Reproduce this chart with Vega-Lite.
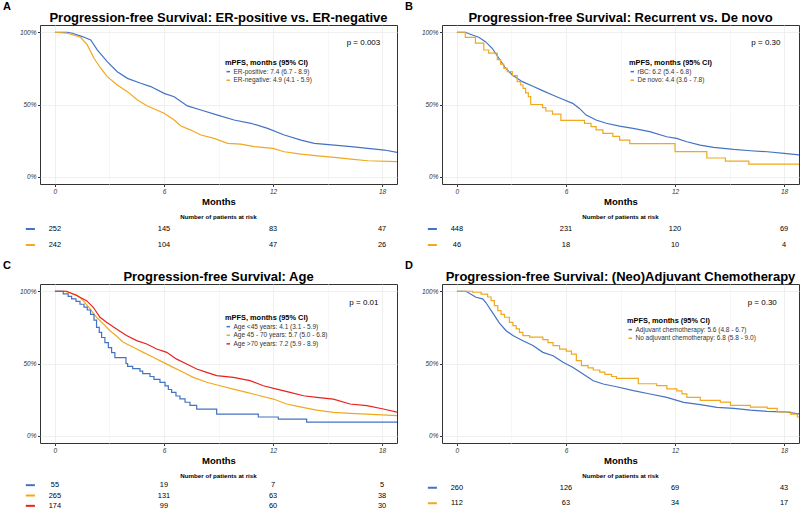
{
"$schema":"https://vega.github.io/schema/vega-lite/v6.json",
"background":"white",
"padding":{"left":2,"top":0,"right":2,"bottom":0},
"config":{"font":"Liberation Sans","view":{"stroke":"#333333","strokeWidth":1},"axis":{"domain":false,"grid":true,"labelFontSize":6.5,"labelFontStyle":"italic","labelColor":"#333333","tickColor":"#333333","tickSize":2.5,"labelPadding":1.5,"gridWidth":0.8},"title":{"color":"black"}},
"datasets":{
"kmA":[
{"g":"ER-positive: 7.4 (6.7 - 8.9)","t":0,"s":1},{"g":"ER-positive: 7.4 (6.7 - 8.9)","t":0.68,"s":1},{"g":"ER-positive: 7.4 (6.7 - 8.9)","t":0.96,"s":0.993},{"g":"ER-positive: 7.4 (6.7 - 8.9)","t":1.51,"s":0.97},{"g":"ER-positive: 7.4 (6.7 - 8.9)","t":1.97,"s":0.947},{"g":"ER-positive: 7.4 (6.7 - 8.9)","t":2.33,"s":0.878},{"g":"ER-positive: 7.4 (6.7 - 8.9)","t":2.88,"s":0.797},{"g":"ER-positive: 7.4 (6.7 - 8.9)","t":3.43,"s":0.727},{"g":"ER-positive: 7.4 (6.7 - 8.9)","t":3.99,"s":0.681},{"g":"ER-positive: 7.4 (6.7 - 8.9)","t":4.72,"s":0.647},{"g":"ER-positive: 7.4 (6.7 - 8.9)","t":5.27,"s":0.624},{"g":"ER-positive: 7.4 (6.7 - 8.9)","t":6.01,"s":0.577},{"g":"ER-positive: 7.4 (6.7 - 8.9)","t":6.56,"s":0.554},{"g":"ER-positive: 7.4 (6.7 - 8.9)","t":7.29,"s":0.49},{"g":"ER-positive: 7.4 (6.7 - 8.9)","t":8.03,"s":0.462},{"g":"ER-positive: 7.4 (6.7 - 8.9)","t":8.95,"s":0.427},{"g":"ER-positive: 7.4 (6.7 - 8.9)","t":9.86,"s":0.393},{"g":"ER-positive: 7.4 (6.7 - 8.9)","t":10.78,"s":0.37},{"g":"ER-positive: 7.4 (6.7 - 8.9)","t":11.7,"s":0.335},{"g":"ER-positive: 7.4 (6.7 - 8.9)","t":12.62,"s":0.289},{"g":"ER-positive: 7.4 (6.7 - 8.9)","t":13.54,"s":0.254},{"g":"ER-positive: 7.4 (6.7 - 8.9)","t":14.27,"s":0.231},{"g":"ER-positive: 7.4 (6.7 - 8.9)","t":15.37,"s":0.219},{"g":"ER-positive: 7.4 (6.7 - 8.9)","t":16.29,"s":0.208},{"g":"ER-positive: 7.4 (6.7 - 8.9)","t":17.21,"s":0.196},{"g":"ER-positive: 7.4 (6.7 - 8.9)","t":18.13,"s":0.185},{"g":"ER-positive: 7.4 (6.7 - 8.9)","t":18.96,"s":0.166},
{"g":"ER-negative: 4.9 (4.1 - 5.9)","t":0,"s":1},{"g":"ER-negative: 4.9 (4.1 - 5.9)","t":0.68,"s":0.993},{"g":"ER-negative: 4.9 (4.1 - 5.9)","t":1.41,"s":0.965},{"g":"ER-negative: 4.9 (4.1 - 5.9)","t":1.78,"s":0.912},{"g":"ER-negative: 4.9 (4.1 - 5.9)","t":2.15,"s":0.82},{"g":"ER-negative: 4.9 (4.1 - 5.9)","t":2.52,"s":0.751},{"g":"ER-negative: 4.9 (4.1 - 5.9)","t":2.88,"s":0.693},{"g":"ER-negative: 4.9 (4.1 - 5.9)","t":3.43,"s":0.635},{"g":"ER-negative: 4.9 (4.1 - 5.9)","t":3.99,"s":0.589},{"g":"ER-negative: 4.9 (4.1 - 5.9)","t":4.54,"s":0.531},{"g":"ER-negative: 4.9 (4.1 - 5.9)","t":5.09,"s":0.49},{"g":"ER-negative: 4.9 (4.1 - 5.9)","t":6.01,"s":0.439},{"g":"ER-negative: 4.9 (4.1 - 5.9)","t":6.56,"s":0.393},{"g":"ER-negative: 4.9 (4.1 - 5.9)","t":6.93,"s":0.351},{"g":"ER-negative: 4.9 (4.1 - 5.9)","t":7.48,"s":0.323},{"g":"ER-negative: 4.9 (4.1 - 5.9)","t":8.03,"s":0.289},{"g":"ER-negative: 4.9 (4.1 - 5.9)","t":8.76,"s":0.266},{"g":"ER-negative: 4.9 (4.1 - 5.9)","t":9.5,"s":0.231},{"g":"ER-negative: 4.9 (4.1 - 5.9)","t":10.23,"s":0.226},{"g":"ER-negative: 4.9 (4.1 - 5.9)","t":10.97,"s":0.208},{"g":"ER-negative: 4.9 (4.1 - 5.9)","t":11.98,"s":0.196},{"g":"ER-negative: 4.9 (4.1 - 5.9)","t":12.62,"s":0.173},{"g":"ER-negative: 4.9 (4.1 - 5.9)","t":13.54,"s":0.157},{"g":"ER-negative: 4.9 (4.1 - 5.9)","t":14.46,"s":0.145},{"g":"ER-negative: 4.9 (4.1 - 5.9)","t":15.37,"s":0.134},{"g":"ER-negative: 4.9 (4.1 - 5.9)","t":16.29,"s":0.122},{"g":"ER-negative: 4.9 (4.1 - 5.9)","t":17.21,"s":0.111},{"g":"ER-negative: 4.9 (4.1 - 5.9)","t":18.96,"s":0.104}
],
"kmB":[
{"g":"rBC: 6.2 (5.4 - 6.8)","t":0,"s":1},{"g":"rBC: 6.2 (5.4 - 6.8)","t":0.46,"s":1},{"g":"rBC: 6.2 (5.4 - 6.8)","t":0.74,"s":0.986},{"g":"rBC: 6.2 (5.4 - 6.8)","t":1.2,"s":0.965},{"g":"rBC: 6.2 (5.4 - 6.8)","t":1.57,"s":0.935},{"g":"rBC: 6.2 (5.4 - 6.8)","t":1.94,"s":0.889},{"g":"rBC: 6.2 (5.4 - 6.8)","t":2.31,"s":0.82},{"g":"rBC: 6.2 (5.4 - 6.8)","t":2.68,"s":0.751},{"g":"rBC: 6.2 (5.4 - 6.8)","t":3.05,"s":0.704},{"g":"rBC: 6.2 (5.4 - 6.8)","t":3.6,"s":0.658},{"g":"rBC: 6.2 (5.4 - 6.8)","t":4.15,"s":0.628},{"g":"rBC: 6.2 (5.4 - 6.8)","t":4.71,"s":0.596},{"g":"rBC: 6.2 (5.4 - 6.8)","t":5.26,"s":0.566},{"g":"rBC: 6.2 (5.4 - 6.8)","t":5.82,"s":0.536},{"g":"rBC: 6.2 (5.4 - 6.8)","t":6.37,"s":0.508},{"g":"rBC: 6.2 (5.4 - 6.8)","t":6.74,"s":0.473},{"g":"rBC: 6.2 (5.4 - 6.8)","t":7.11,"s":0.427},{"g":"rBC: 6.2 (5.4 - 6.8)","t":7.66,"s":0.393},{"g":"rBC: 6.2 (5.4 - 6.8)","t":8.21,"s":0.37},{"g":"rBC: 6.2 (5.4 - 6.8)","t":8.95,"s":0.351},{"g":"rBC: 6.2 (5.4 - 6.8)","t":9.69,"s":0.335},{"g":"rBC: 6.2 (5.4 - 6.8)","t":10.61,"s":0.312},{"g":"rBC: 6.2 (5.4 - 6.8)","t":11.54,"s":0.277},{"g":"rBC: 6.2 (5.4 - 6.8)","t":12.09,"s":0.266},{"g":"rBC: 6.2 (5.4 - 6.8)","t":12.65,"s":0.242},{"g":"rBC: 6.2 (5.4 - 6.8)","t":13.38,"s":0.219},{"g":"rBC: 6.2 (5.4 - 6.8)","t":14.12,"s":0.203},{"g":"rBC: 6.2 (5.4 - 6.8)","t":15.23,"s":0.189},{"g":"rBC: 6.2 (5.4 - 6.8)","t":16.15,"s":0.18},{"g":"rBC: 6.2 (5.4 - 6.8)","t":17.08,"s":0.173},{"g":"rBC: 6.2 (5.4 - 6.8)","t":18,"s":0.162},{"g":"rBC: 6.2 (5.4 - 6.8)","t":18.9,"s":0.15},
{"g":"De novo: 4.4 (3.6 - 7.8)","t":0,"s":1},{"g":"De novo: 4.4 (3.6 - 7.8)","t":0.46,"s":0.965},{"g":"De novo: 4.4 (3.6 - 7.8)","t":1.02,"s":0.924},{"g":"De novo: 4.4 (3.6 - 7.8)","t":1.48,"s":0.877},{"g":"De novo: 4.4 (3.6 - 7.8)","t":1.75,"s":0.855},{"g":"De novo: 4.4 (3.6 - 7.8)","t":2.22,"s":0.81},{"g":"De novo: 4.4 (3.6 - 7.8)","t":2.4,"s":0.78},{"g":"De novo: 4.4 (3.6 - 7.8)","t":2.58,"s":0.75},{"g":"De novo: 4.4 (3.6 - 7.8)","t":2.77,"s":0.727},{"g":"De novo: 4.4 (3.6 - 7.8)","t":3.05,"s":0.7},{"g":"De novo: 4.4 (3.6 - 7.8)","t":3.32,"s":0.658},{"g":"De novo: 4.4 (3.6 - 7.8)","t":3.51,"s":0.635},{"g":"De novo: 4.4 (3.6 - 7.8)","t":3.64,"s":0.612},{"g":"De novo: 4.4 (3.6 - 7.8)","t":3.78,"s":0.58},{"g":"De novo: 4.4 (3.6 - 7.8)","t":3.93,"s":0.554},{"g":"De novo: 4.4 (3.6 - 7.8)","t":4.06,"s":0.5},{"g":"De novo: 4.4 (3.6 - 7.8)","t":4.71,"s":0.478},{"g":"De novo: 4.4 (3.6 - 7.8)","t":4.89,"s":0.455},{"g":"De novo: 4.4 (3.6 - 7.8)","t":5.26,"s":0.433},{"g":"De novo: 4.4 (3.6 - 7.8)","t":5.72,"s":0.39},{"g":"De novo: 4.4 (3.6 - 7.8)","t":7.02,"s":0.37},{"g":"De novo: 4.4 (3.6 - 7.8)","t":7.38,"s":0.347},{"g":"De novo: 4.4 (3.6 - 7.8)","t":7.66,"s":0.325},{"g":"De novo: 4.4 (3.6 - 7.8)","t":8.03,"s":0.3},{"g":"De novo: 4.4 (3.6 - 7.8)","t":8.58,"s":0.28},{"g":"De novo: 4.4 (3.6 - 7.8)","t":8.95,"s":0.254},{"g":"De novo: 4.4 (3.6 - 7.8)","t":9.51,"s":0.23},{"g":"De novo: 4.4 (3.6 - 7.8)","t":12.0,"s":0.174},{"g":"De novo: 4.4 (3.6 - 7.8)","t":13.75,"s":0.13},{"g":"De novo: 4.4 (3.6 - 7.8)","t":14.77,"s":0.108},{"g":"De novo: 4.4 (3.6 - 7.8)","t":16.06,"s":0.087},{"g":"De novo: 4.4 (3.6 - 7.8)","t":19,"s":0.087}
],
"kmC":[
{"g":"Age <45 years: 4.1 (3.1 - 5.9)","t":0,"s":1},{"g":"Age <45 years: 4.1 (3.1 - 5.9)","t":0.46,"s":0.982},{"g":"Age <45 years: 4.1 (3.1 - 5.9)","t":0.73,"s":0.965},{"g":"Age <45 years: 4.1 (3.1 - 5.9)","t":0.92,"s":0.947},{"g":"Age <45 years: 4.1 (3.1 - 5.9)","t":1.16,"s":0.93},{"g":"Age <45 years: 4.1 (3.1 - 5.9)","t":1.38,"s":0.91},{"g":"Age <45 years: 4.1 (3.1 - 5.9)","t":1.6,"s":0.89},{"g":"Age <45 years: 4.1 (3.1 - 5.9)","t":1.78,"s":0.87},{"g":"Age <45 years: 4.1 (3.1 - 5.9)","t":1.96,"s":0.84},{"g":"Age <45 years: 4.1 (3.1 - 5.9)","t":2.15,"s":0.8},{"g":"Age <45 years: 4.1 (3.1 - 5.9)","t":2.29,"s":0.75},{"g":"Age <45 years: 4.1 (3.1 - 5.9)","t":2.44,"s":0.715},{"g":"Age <45 years: 4.1 (3.1 - 5.9)","t":2.57,"s":0.68},{"g":"Age <45 years: 4.1 (3.1 - 5.9)","t":2.75,"s":0.645},{"g":"Age <45 years: 4.1 (3.1 - 5.9)","t":2.94,"s":0.61},{"g":"Age <45 years: 4.1 (3.1 - 5.9)","t":3.12,"s":0.575},{"g":"Age <45 years: 4.1 (3.1 - 5.9)","t":3.3,"s":0.54},{"g":"Age <45 years: 4.1 (3.1 - 5.9)","t":3.91,"s":0.5},{"g":"Age <45 years: 4.1 (3.1 - 5.9)","t":4.0,"s":0.48},{"g":"Age <45 years: 4.1 (3.1 - 5.9)","t":4.28,"s":0.465},{"g":"Age <45 years: 4.1 (3.1 - 5.9)","t":4.68,"s":0.447},{"g":"Age <45 years: 4.1 (3.1 - 5.9)","t":4.83,"s":0.43},{"g":"Age <45 years: 4.1 (3.1 - 5.9)","t":5.23,"s":0.41},{"g":"Age <45 years: 4.1 (3.1 - 5.9)","t":5.45,"s":0.39},{"g":"Age <45 years: 4.1 (3.1 - 5.9)","t":5.78,"s":0.37},{"g":"Age <45 years: 4.1 (3.1 - 5.9)","t":6.06,"s":0.345},{"g":"Age <45 years: 4.1 (3.1 - 5.9)","t":6.24,"s":0.32},{"g":"Age <45 years: 4.1 (3.1 - 5.9)","t":6.42,"s":0.3},{"g":"Age <45 years: 4.1 (3.1 - 5.9)","t":6.66,"s":0.275},{"g":"Age <45 years: 4.1 (3.1 - 5.9)","t":6.88,"s":0.255},{"g":"Age <45 years: 4.1 (3.1 - 5.9)","t":7.16,"s":0.232},{"g":"Age <45 years: 4.1 (3.1 - 5.9)","t":7.43,"s":0.21},{"g":"Age <45 years: 4.1 (3.1 - 5.9)","t":7.8,"s":0.185},{"g":"Age <45 years: 4.1 (3.1 - 5.9)","t":8.9,"s":0.15},{"g":"Age <45 years: 4.1 (3.1 - 5.9)","t":11.19,"s":0.13},{"g":"Age <45 years: 4.1 (3.1 - 5.9)","t":12.29,"s":0.115},{"g":"Age <45 years: 4.1 (3.1 - 5.9)","t":13.85,"s":0.095},{"g":"Age <45 years: 4.1 (3.1 - 5.9)","t":19,"s":0.095},
{"g":"Age 45 - 70 years: 5.7 (5.0 - 6.8)","t":0,"s":1},{"g":"Age 45 - 70 years: 5.7 (5.0 - 6.8)","t":0.55,"s":1},{"g":"Age 45 - 70 years: 5.7 (5.0 - 6.8)","t":1.19,"s":0.975},{"g":"Age 45 - 70 years: 5.7 (5.0 - 6.8)","t":1.56,"s":0.935},{"g":"Age 45 - 70 years: 5.7 (5.0 - 6.8)","t":1.93,"s":0.878},{"g":"Age 45 - 70 years: 5.7 (5.0 - 6.8)","t":2.29,"s":0.82},{"g":"Age 45 - 70 years: 5.7 (5.0 - 6.8)","t":2.66,"s":0.774},{"g":"Age 45 - 70 years: 5.7 (5.0 - 6.8)","t":3.03,"s":0.727},{"g":"Age 45 - 70 years: 5.7 (5.0 - 6.8)","t":3.39,"s":0.69},{"g":"Age 45 - 70 years: 5.7 (5.0 - 6.8)","t":3.76,"s":0.647},{"g":"Age 45 - 70 years: 5.7 (5.0 - 6.8)","t":4.31,"s":0.612},{"g":"Age 45 - 70 years: 5.7 (5.0 - 6.8)","t":4.86,"s":0.577},{"g":"Age 45 - 70 years: 5.7 (5.0 - 6.8)","t":5.41,"s":0.543},{"g":"Age 45 - 70 years: 5.7 (5.0 - 6.8)","t":5.96,"s":0.508},{"g":"Age 45 - 70 years: 5.7 (5.0 - 6.8)","t":6.51,"s":0.473},{"g":"Age 45 - 70 years: 5.7 (5.0 - 6.8)","t":7.06,"s":0.44},{"g":"Age 45 - 70 years: 5.7 (5.0 - 6.8)","t":7.61,"s":0.404},{"g":"Age 45 - 70 years: 5.7 (5.0 - 6.8)","t":8.35,"s":0.37},{"g":"Age 45 - 70 years: 5.7 (5.0 - 6.8)","t":9.08,"s":0.346},{"g":"Age 45 - 70 years: 5.7 (5.0 - 6.8)","t":9.82,"s":0.323},{"g":"Age 45 - 70 years: 5.7 (5.0 - 6.8)","t":10.55,"s":0.3},{"g":"Age 45 - 70 years: 5.7 (5.0 - 6.8)","t":11.28,"s":0.277},{"g":"Age 45 - 70 years: 5.7 (5.0 - 6.8)","t":12.02,"s":0.254},{"g":"Age 45 - 70 years: 5.7 (5.0 - 6.8)","t":12.75,"s":0.22},{"g":"Age 45 - 70 years: 5.7 (5.0 - 6.8)","t":13.49,"s":0.2},{"g":"Age 45 - 70 years: 5.7 (5.0 - 6.8)","t":14.4,"s":0.178},{"g":"Age 45 - 70 years: 5.7 (5.0 - 6.8)","t":15.32,"s":0.162},{"g":"Age 45 - 70 years: 5.7 (5.0 - 6.8)","t":16.24,"s":0.155},{"g":"Age 45 - 70 years: 5.7 (5.0 - 6.8)","t":17.16,"s":0.15},{"g":"Age 45 - 70 years: 5.7 (5.0 - 6.8)","t":18.9,"s":0.139},
{"g":"Age >70 years: 7.2 (5.9 - 8.9)","t":0,"s":1},{"g":"Age >70 years: 7.2 (5.9 - 8.9)","t":0.64,"s":1},{"g":"Age >70 years: 7.2 (5.9 - 8.9)","t":1.19,"s":0.97},{"g":"Age >70 years: 7.2 (5.9 - 8.9)","t":1.74,"s":0.935},{"g":"Age >70 years: 7.2 (5.9 - 8.9)","t":2.11,"s":0.889},{"g":"Age >70 years: 7.2 (5.9 - 8.9)","t":2.48,"s":0.82},{"g":"Age >70 years: 7.2 (5.9 - 8.9)","t":2.84,"s":0.785},{"g":"Age >70 years: 7.2 (5.9 - 8.9)","t":3.39,"s":0.739},{"g":"Age >70 years: 7.2 (5.9 - 8.9)","t":3.94,"s":0.693},{"g":"Age >70 years: 7.2 (5.9 - 8.9)","t":4.5,"s":0.658},{"g":"Age >70 years: 7.2 (5.9 - 8.9)","t":5.05,"s":0.635},{"g":"Age >70 years: 7.2 (5.9 - 8.9)","t":5.6,"s":0.6},{"g":"Age >70 years: 7.2 (5.9 - 8.9)","t":6.15,"s":0.577},{"g":"Age >70 years: 7.2 (5.9 - 8.9)","t":6.7,"s":0.53},{"g":"Age >70 years: 7.2 (5.9 - 8.9)","t":7.25,"s":0.497},{"g":"Age >70 years: 7.2 (5.9 - 8.9)","t":7.8,"s":0.462},{"g":"Age >70 years: 7.2 (5.9 - 8.9)","t":8.35,"s":0.439},{"g":"Age >70 years: 7.2 (5.9 - 8.9)","t":8.9,"s":0.416},{"g":"Age >70 years: 7.2 (5.9 - 8.9)","t":9.82,"s":0.404},{"g":"Age >70 years: 7.2 (5.9 - 8.9)","t":10.73,"s":0.381},{"g":"Age >70 years: 7.2 (5.9 - 8.9)","t":11.47,"s":0.346},{"g":"Age >70 years: 7.2 (5.9 - 8.9)","t":12.2,"s":0.323},{"g":"Age >70 years: 7.2 (5.9 - 8.9)","t":12.94,"s":0.3},{"g":"Age >70 years: 7.2 (5.9 - 8.9)","t":13.67,"s":0.277},{"g":"Age >70 years: 7.2 (5.9 - 8.9)","t":14.4,"s":0.266},{"g":"Age >70 years: 7.2 (5.9 - 8.9)","t":15.32,"s":0.254},{"g":"Age >70 years: 7.2 (5.9 - 8.9)","t":16.24,"s":0.22},{"g":"Age >70 years: 7.2 (5.9 - 8.9)","t":17.16,"s":0.208},{"g":"Age >70 years: 7.2 (5.9 - 8.9)","t":18.07,"s":0.185},{"g":"Age >70 years: 7.2 (5.9 - 8.9)","t":18.9,"s":0.162}
],
"kmD":[
{"g":"Adjuvant chemotherapy: 5.6 (4.8 - 6.7)","t":0,"s":1},{"g":"Adjuvant chemotherapy: 5.6 (4.8 - 6.7)","t":0.5,"s":1},{"g":"Adjuvant chemotherapy: 5.6 (4.8 - 6.7)","t":1.05,"s":0.958},{"g":"Adjuvant chemotherapy: 5.6 (4.8 - 6.7)","t":1.42,"s":0.947},{"g":"Adjuvant chemotherapy: 5.6 (4.8 - 6.7)","t":1.6,"s":0.92},{"g":"Adjuvant chemotherapy: 5.6 (4.8 - 6.7)","t":1.97,"s":0.85},{"g":"Adjuvant chemotherapy: 5.6 (4.8 - 6.7)","t":2.34,"s":0.78},{"g":"Adjuvant chemotherapy: 5.6 (4.8 - 6.7)","t":2.71,"s":0.727},{"g":"Adjuvant chemotherapy: 5.6 (4.8 - 6.7)","t":3.08,"s":0.693},{"g":"Adjuvant chemotherapy: 5.6 (4.8 - 6.7)","t":3.63,"s":0.658},{"g":"Adjuvant chemotherapy: 5.6 (4.8 - 6.7)","t":4.18,"s":0.624},{"g":"Adjuvant chemotherapy: 5.6 (4.8 - 6.7)","t":4.73,"s":0.577},{"g":"Adjuvant chemotherapy: 5.6 (4.8 - 6.7)","t":5.29,"s":0.554},{"g":"Adjuvant chemotherapy: 5.6 (4.8 - 6.7)","t":5.84,"s":0.508},{"g":"Adjuvant chemotherapy: 5.6 (4.8 - 6.7)","t":6.39,"s":0.473},{"g":"Adjuvant chemotherapy: 5.6 (4.8 - 6.7)","t":6.94,"s":0.427},{"g":"Adjuvant chemotherapy: 5.6 (4.8 - 6.7)","t":7.5,"s":0.381},{"g":"Adjuvant chemotherapy: 5.6 (4.8 - 6.7)","t":8.05,"s":0.358},{"g":"Adjuvant chemotherapy: 5.6 (4.8 - 6.7)","t":8.78,"s":0.339},{"g":"Adjuvant chemotherapy: 5.6 (4.8 - 6.7)","t":9.71,"s":0.312},{"g":"Adjuvant chemotherapy: 5.6 (4.8 - 6.7)","t":10.63,"s":0.289},{"g":"Adjuvant chemotherapy: 5.6 (4.8 - 6.7)","t":11.55,"s":0.266},{"g":"Adjuvant chemotherapy: 5.6 (4.8 - 6.7)","t":12.47,"s":0.231},{"g":"Adjuvant chemotherapy: 5.6 (4.8 - 6.7)","t":13.39,"s":0.215},{"g":"Adjuvant chemotherapy: 5.6 (4.8 - 6.7)","t":14.31,"s":0.196},{"g":"Adjuvant chemotherapy: 5.6 (4.8 - 6.7)","t":15.23,"s":0.19},{"g":"Adjuvant chemotherapy: 5.6 (4.8 - 6.7)","t":16.15,"s":0.178},{"g":"Adjuvant chemotherapy: 5.6 (4.8 - 6.7)","t":17.07,"s":0.169},{"g":"Adjuvant chemotherapy: 5.6 (4.8 - 6.7)","t":17.99,"s":0.166},{"g":"Adjuvant chemotherapy: 5.6 (4.8 - 6.7)","t":18.9,"s":0.15},
{"g":"No adjuvant chemotherapy: 6.8 (5.8 - 9.0)","t":0,"s":1},{"g":"No adjuvant chemotherapy: 6.8 (5.8 - 9.0)","t":0.87,"s":0.993},{"g":"No adjuvant chemotherapy: 6.8 (5.8 - 9.0)","t":1.33,"s":0.98},{"g":"No adjuvant chemotherapy: 6.8 (5.8 - 9.0)","t":1.69,"s":0.96},{"g":"No adjuvant chemotherapy: 6.8 (5.8 - 9.0)","t":1.88,"s":0.935},{"g":"No adjuvant chemotherapy: 6.8 (5.8 - 9.0)","t":2.06,"s":0.9},{"g":"No adjuvant chemotherapy: 6.8 (5.8 - 9.0)","t":2.25,"s":0.866},{"g":"No adjuvant chemotherapy: 6.8 (5.8 - 9.0)","t":2.43,"s":0.84},{"g":"No adjuvant chemotherapy: 6.8 (5.8 - 9.0)","t":2.62,"s":0.82},{"g":"No adjuvant chemotherapy: 6.8 (5.8 - 9.0)","t":2.89,"s":0.785},{"g":"No adjuvant chemotherapy: 6.8 (5.8 - 9.0)","t":3.08,"s":0.762},{"g":"No adjuvant chemotherapy: 6.8 (5.8 - 9.0)","t":3.26,"s":0.739},{"g":"No adjuvant chemotherapy: 6.8 (5.8 - 9.0)","t":3.44,"s":0.716},{"g":"No adjuvant chemotherapy: 6.8 (5.8 - 9.0)","t":3.63,"s":0.693},{"g":"No adjuvant chemotherapy: 6.8 (5.8 - 9.0)","t":4.0,"s":0.682},{"g":"No adjuvant chemotherapy: 6.8 (5.8 - 9.0)","t":4.73,"s":0.665},{"g":"No adjuvant chemotherapy: 6.8 (5.8 - 9.0)","t":5.01,"s":0.645},{"g":"No adjuvant chemotherapy: 6.8 (5.8 - 9.0)","t":5.29,"s":0.624},{"g":"No adjuvant chemotherapy: 6.8 (5.8 - 9.0)","t":5.65,"s":0.6},{"g":"No adjuvant chemotherapy: 6.8 (5.8 - 9.0)","t":6.02,"s":0.585},{"g":"No adjuvant chemotherapy: 6.8 (5.8 - 9.0)","t":6.3,"s":0.565},{"g":"No adjuvant chemotherapy: 6.8 (5.8 - 9.0)","t":6.57,"s":0.52},{"g":"No adjuvant chemotherapy: 6.8 (5.8 - 9.0)","t":6.85,"s":0.485},{"g":"No adjuvant chemotherapy: 6.8 (5.8 - 9.0)","t":7.22,"s":0.47},{"g":"No adjuvant chemotherapy: 6.8 (5.8 - 9.0)","t":7.5,"s":0.455},{"g":"No adjuvant chemotherapy: 6.8 (5.8 - 9.0)","t":7.86,"s":0.44},{"g":"No adjuvant chemotherapy: 6.8 (5.8 - 9.0)","t":8.14,"s":0.425},{"g":"No adjuvant chemotherapy: 6.8 (5.8 - 9.0)","t":8.51,"s":0.41},{"g":"No adjuvant chemotherapy: 6.8 (5.8 - 9.0)","t":8.78,"s":0.397},{"g":"No adjuvant chemotherapy: 6.8 (5.8 - 9.0)","t":9.98,"s":0.36},{"g":"No adjuvant chemotherapy: 6.8 (5.8 - 9.0)","t":10.99,"s":0.347},{"g":"No adjuvant chemotherapy: 6.8 (5.8 - 9.0)","t":11.55,"s":0.325},{"g":"No adjuvant chemotherapy: 6.8 (5.8 - 9.0)","t":12.1,"s":0.31},{"g":"No adjuvant chemotherapy: 6.8 (5.8 - 9.0)","t":12.38,"s":0.29},{"g":"No adjuvant chemotherapy: 6.8 (5.8 - 9.0)","t":12.65,"s":0.266},{"g":"No adjuvant chemotherapy: 6.8 (5.8 - 9.0)","t":13.39,"s":0.245},{"g":"No adjuvant chemotherapy: 6.8 (5.8 - 9.0)","t":14.49,"s":0.233},{"g":"No adjuvant chemotherapy: 6.8 (5.8 - 9.0)","t":15.05,"s":0.21},{"g":"No adjuvant chemotherapy: 6.8 (5.8 - 9.0)","t":16.15,"s":0.198},{"g":"No adjuvant chemotherapy: 6.8 (5.8 - 9.0)","t":17.07,"s":0.19},{"g":"No adjuvant chemotherapy: 6.8 (5.8 - 9.0)","t":17.62,"s":0.165},{"g":"No adjuvant chemotherapy: 6.8 (5.8 - 9.0)","t":18.36,"s":0.15},{"g":"No adjuvant chemotherapy: 6.8 (5.8 - 9.0)","t":18.73,"s":0.13},{"g":"No adjuvant chemotherapy: 6.8 (5.8 - 9.0)","t":19,"s":0.13}
],
"riskA":[
{"g":"ER-positive: 7.4 (6.7 - 8.9)","t":0,"n":252},{"g":"ER-positive: 7.4 (6.7 - 8.9)","t":6,"n":145},{"g":"ER-positive: 7.4 (6.7 - 8.9)","t":12,"n":83},{"g":"ER-positive: 7.4 (6.7 - 8.9)","t":18,"n":47},
{"g":"ER-negative: 4.9 (4.1 - 5.9)","t":0,"n":242},{"g":"ER-negative: 4.9 (4.1 - 5.9)","t":6,"n":104},{"g":"ER-negative: 4.9 (4.1 - 5.9)","t":12,"n":47},{"g":"ER-negative: 4.9 (4.1 - 5.9)","t":18,"n":26}
],
"riskB":[
{"g":"rBC: 6.2 (5.4 - 6.8)","t":0,"n":448},{"g":"rBC: 6.2 (5.4 - 6.8)","t":6,"n":231},{"g":"rBC: 6.2 (5.4 - 6.8)","t":12,"n":120},{"g":"rBC: 6.2 (5.4 - 6.8)","t":18,"n":69},
{"g":"De novo: 4.4 (3.6 - 7.8)","t":0,"n":46},{"g":"De novo: 4.4 (3.6 - 7.8)","t":6,"n":18},{"g":"De novo: 4.4 (3.6 - 7.8)","t":12,"n":10},{"g":"De novo: 4.4 (3.6 - 7.8)","t":18,"n":4}
],
"riskC":[
{"g":"Age <45 years: 4.1 (3.1 - 5.9)","t":0,"n":55},{"g":"Age <45 years: 4.1 (3.1 - 5.9)","t":6,"n":19},{"g":"Age <45 years: 4.1 (3.1 - 5.9)","t":12,"n":7},{"g":"Age <45 years: 4.1 (3.1 - 5.9)","t":18,"n":5},
{"g":"Age 45 - 70 years: 5.7 (5.0 - 6.8)","t":0,"n":265},{"g":"Age 45 - 70 years: 5.7 (5.0 - 6.8)","t":6,"n":131},{"g":"Age 45 - 70 years: 5.7 (5.0 - 6.8)","t":12,"n":63},{"g":"Age 45 - 70 years: 5.7 (5.0 - 6.8)","t":18,"n":38},
{"g":"Age >70 years: 7.2 (5.9 - 8.9)","t":0,"n":174},{"g":"Age >70 years: 7.2 (5.9 - 8.9)","t":6,"n":99},{"g":"Age >70 years: 7.2 (5.9 - 8.9)","t":12,"n":60},{"g":"Age >70 years: 7.2 (5.9 - 8.9)","t":18,"n":30}
],
"riskD":[
{"g":"Adjuvant chemotherapy: 5.6 (4.8 - 6.7)","t":0,"n":260},{"g":"Adjuvant chemotherapy: 5.6 (4.8 - 6.7)","t":6,"n":126},{"g":"Adjuvant chemotherapy: 5.6 (4.8 - 6.7)","t":12,"n":69},{"g":"Adjuvant chemotherapy: 5.6 (4.8 - 6.7)","t":18,"n":43},
{"g":"No adjuvant chemotherapy: 6.8 (5.8 - 9.0)","t":0,"n":112},{"g":"No adjuvant chemotherapy: 6.8 (5.8 - 9.0)","t":6,"n":63},{"g":"No adjuvant chemotherapy: 6.8 (5.8 - 9.0)","t":12,"n":34},{"g":"No adjuvant chemotherapy: 6.8 (5.8 - 9.0)","t":18,"n":17}
]
},
"spacing":6,
"resolve":{"scale":{"color":"independent"}},
"vconcat":[
{"hconcat":[
 {"title":{"text":"A","anchor":"start","fontSize":11,"fontWeight":"bold","dx":-16,"offset":0,"color":"black"},
  "spacing":6,"resolve":{"scale":{"color":"independent"}},
  "vconcat":[
   {"width":357,"height":159,
    "title":{"text":"Progression-free Survival: ER-positive vs. ER-negative","fontSize":13,"fontWeight":"bold","anchor":"middle","frame":"group","offset":0,"color":"black"},
    "layer":[
     {"data":{"name":"kmA"},
      "encoding":{
       "x":{"field":"t","type":"quantitative","scale":{"domain":[-0.82,18.82],"nice":false,"zero":false},"axis":{"values":[0,3,6,9,12,15,18],"labelExpr":"datum.value % 6 == 0 ? datum.label : ''","gridColor":{"condition":{"test":"datum.value % 6 == 0","value":"#EBEBEB"},"value":"#F5F5F5"},"tickOpacity":{"condition":{"test":"datum.value % 6 == 0","value":1},"value":0},"title":"Months","titleFontSize":9.5,"titleFontWeight":"bold","titleColor":"black","titlePadding":2,"labelFlush":false}},
       "y":{"field":"s","type":"quantitative","scale":{"domain":[-0.05,1.05],"nice":false,"zero":false},"axis":{"values":[0,0.125,0.25,0.375,0.5,0.625,0.75,0.875,1],"labelExpr":"round(datum.value*8) % 2 == 0 ? format(datum.value, '.0%') : ''","gridColor":{"condition":{"test":"round(datum.value*8) % 2 == 0","value":"#EBEBEB"},"value":"#F5F5F5"},"tickOpacity":{"condition":{"test":"round(datum.value*8) % 2 == 0","value":1},"value":0},"title":null}},
       "color":{"field":"g","type":"nominal","scale":{"domain":["ER-positive: 7.4 (6.7 - 8.9)","ER-negative: 4.9 (4.1 - 5.9)"],"range":["#4472C4","#F2A81D"]},"legend":{"orient":"none","legendX":185,"legendY":34,"title":"mPFS, months (95% CI)","titleFontSize":7.4,"titleFontWeight":"bold","titleColor":"black","titlePadding":2,"labelFontSize":6.5,"labelColor":"#333333","symbolType":"stroke","symbolSize":12,"symbolStrokeWidth":1.5,"rowPadding":1.6,"labelOffset":2,"padding":0,"labelLimit":300}}
      },
      "layer":[{"mark":{"type":"line","interpolate":"linear","strokeWidth":1.2,"clip":true}}]
     },
     {"data":{"values":[{}]},"mark":{"type":"text","align":"right","baseline":"middle","fontSize":8,"color":"black"},"encoding":{"x":{"datum":17.9},"y":{"datum":0.926},"text":{"value":"p = 0.003"}}}
    ]
   },
   {"width":357,"height":32,"view":{"stroke":null},
    "title":{"text":"Number of patients at risk","fontSize":6.2,"fontWeight":"bold","anchor":"middle","frame":"group","offset":1,"color":"black"},
    "data":{"name":"riskA"},
    "encoding":{"y":{"field":"g","type":"nominal","scale":{"type":"point","padding":0.5,"domain":["ER-positive: 7.4 (6.7 - 8.9)","ER-negative: 4.9 (4.1 - 5.9)"]},"axis":null}},
    "layer":[
     {"mark":{"type":"text","fontSize":7.4,"color":"black"},"encoding":{"x":{"field":"t","type":"quantitative","scale":{"domain":[-0.82,18.82],"nice":false,"zero":false},"axis":null},"text":{"field":"n","type":"quantitative"}}},
     {"transform":[{"filter":"datum.t == 0"}],"mark":{"type":"rule","strokeWidth":2,"clip":false},"encoding":{"x":{"datum":-1.6},"x2":{"datum":-1.1},"color":{"field":"g","type":"nominal","scale":{"domain":["ER-positive: 7.4 (6.7 - 8.9)","ER-negative: 4.9 (4.1 - 5.9)"],"range":["#4472C4","#F2A81D"]},"legend":null}}}
    ]
   }
  ]
 },
 {"title":{"text":"B","anchor":"start","fontSize":11,"fontWeight":"bold","dx":-16,"offset":0,"color":"black"},
  "spacing":6,"resolve":{"scale":{"color":"independent"}},
  "vconcat":[
   {"width":357,"height":159,
    "title":{"text":"Progression-free Survival: Recurrent vs. De novo","fontSize":13,"fontWeight":"bold","anchor":"middle","frame":"group","offset":0,"color":"black"},
    "layer":[
     {"data":{"name":"kmB"},
      "encoding":{
       "x":{"field":"t","type":"quantitative","scale":{"domain":[-0.82,18.82],"nice":false,"zero":false},"axis":{"values":[0,3,6,9,12,15,18],"labelExpr":"datum.value % 6 == 0 ? datum.label : ''","gridColor":{"condition":{"test":"datum.value % 6 == 0","value":"#EBEBEB"},"value":"#F5F5F5"},"tickOpacity":{"condition":{"test":"datum.value % 6 == 0","value":1},"value":0},"title":"Months","titleFontSize":9.5,"titleFontWeight":"bold","titleColor":"black","titlePadding":2,"labelFlush":false}},
       "y":{"field":"s","type":"quantitative","scale":{"domain":[-0.05,1.05],"nice":false,"zero":false},"axis":{"values":[0,0.125,0.25,0.375,0.5,0.625,0.75,0.875,1],"labelExpr":"round(datum.value*8) % 2 == 0 ? format(datum.value, '.0%') : ''","gridColor":{"condition":{"test":"round(datum.value*8) % 2 == 0","value":"#EBEBEB"},"value":"#F5F5F5"},"tickOpacity":{"condition":{"test":"round(datum.value*8) % 2 == 0","value":1},"value":0},"title":null}},
       "color":{"field":"g","type":"nominal","scale":{"domain":["rBC: 6.2 (5.4 - 6.8)","De novo: 4.4 (3.6 - 7.8)"],"range":["#4472C4","#F2A81D"]},"legend":{"orient":"none","legendX":187,"legendY":34,"title":"mPFS, months (95% CI)","titleFontSize":7.4,"titleFontWeight":"bold","titleColor":"black","titlePadding":2,"labelFontSize":6.5,"labelColor":"#333333","symbolType":"stroke","symbolSize":12,"symbolStrokeWidth":1.5,"rowPadding":1.6,"labelOffset":2,"padding":0,"labelLimit":300}}
      },
      "layer":[
       {"transform":[{"filter":"datum.g == 'rBC: 6.2 (5.4 - 6.8)'"}],"mark":{"type":"line","interpolate":"linear","strokeWidth":1.2,"clip":true}},
       {"transform":[{"filter":"datum.g == 'De novo: 4.4 (3.6 - 7.8)'"}],"mark":{"type":"line","interpolate":"step-after","strokeWidth":1.2,"clip":true}}
      ]
     },
     {"data":{"values":[{}]},"mark":{"type":"text","align":"right","baseline":"middle","fontSize":8,"color":"black"},"encoding":{"x":{"datum":17.8},"y":{"datum":0.926},"text":{"value":"p = 0.30"}}}
    ]
   },
   {"width":357,"height":32,"view":{"stroke":null},
    "title":{"text":"Number of patients at risk","fontSize":6.2,"fontWeight":"bold","anchor":"middle","frame":"group","offset":1,"color":"black"},
    "data":{"name":"riskB"},
    "encoding":{"y":{"field":"g","type":"nominal","scale":{"type":"point","padding":0.5,"domain":["rBC: 6.2 (5.4 - 6.8)","De novo: 4.4 (3.6 - 7.8)"]},"axis":null}},
    "layer":[
     {"mark":{"type":"text","fontSize":7.4,"color":"black"},"encoding":{"x":{"field":"t","type":"quantitative","scale":{"domain":[-0.82,18.82],"nice":false,"zero":false},"axis":null},"text":{"field":"n","type":"quantitative"}}},
     {"transform":[{"filter":"datum.t == 0"}],"mark":{"type":"rule","strokeWidth":2,"clip":false},"encoding":{"x":{"datum":-1.6},"x2":{"datum":-1.1},"color":{"field":"g","type":"nominal","scale":{"domain":["rBC: 6.2 (5.4 - 6.8)","De novo: 4.4 (3.6 - 7.8)"],"range":["#4472C4","#F2A81D"]},"legend":null}}}
    ]
   }
  ]
 }
],"spacing":6,"resolve":{"scale":{"color":"independent"}}},
{"hconcat":[
 {"title":{"text":"C","anchor":"start","fontSize":11,"fontWeight":"bold","dx":-16,"offset":0,"color":"black"},
  "spacing":6,"resolve":{"scale":{"color":"independent"}},
  "vconcat":[
   {"width":357,"height":159,
    "title":{"text":"Progression-free Survival: Age","fontSize":13,"fontWeight":"bold","anchor":"middle","frame":"group","offset":0,"color":"black"},
    "layer":[
     {"data":{"name":"kmC"},
      "encoding":{
       "x":{"field":"t","type":"quantitative","scale":{"domain":[-0.82,18.82],"nice":false,"zero":false},"axis":{"values":[0,3,6,9,12,15,18],"labelExpr":"datum.value % 6 == 0 ? datum.label : ''","gridColor":{"condition":{"test":"datum.value % 6 == 0","value":"#EBEBEB"},"value":"#F5F5F5"},"tickOpacity":{"condition":{"test":"datum.value % 6 == 0","value":1},"value":0},"title":"Months","titleFontSize":9.5,"titleFontWeight":"bold","titleColor":"black","titlePadding":2,"labelFlush":false}},
       "y":{"field":"s","type":"quantitative","scale":{"domain":[-0.05,1.05],"nice":false,"zero":false},"axis":{"values":[0,0.125,0.25,0.375,0.5,0.625,0.75,0.875,1],"labelExpr":"round(datum.value*8) % 2 == 0 ? format(datum.value, '.0%') : ''","gridColor":{"condition":{"test":"round(datum.value*8) % 2 == 0","value":"#EBEBEB"},"value":"#F5F5F5"},"tickOpacity":{"condition":{"test":"round(datum.value*8) % 2 == 0","value":1},"value":0},"title":null}},
       "color":{"field":"g","type":"nominal","scale":{"domain":["Age <45 years: 4.1 (3.1 - 5.9)","Age 45 - 70 years: 5.7 (5.0 - 6.8)","Age >70 years: 7.2 (5.9 - 8.9)"],"range":["#4472C4","#F2A81D","#E8211D"]},"legend":{"orient":"none","legendX":185,"legendY":30,"title":"mPFS, months (95% CI)","titleFontSize":7.4,"titleFontWeight":"bold","titleColor":"black","titlePadding":2,"labelFontSize":6.5,"labelColor":"#333333","symbolType":"stroke","symbolSize":12,"symbolStrokeWidth":1.5,"rowPadding":1.6,"labelOffset":2,"padding":0,"labelLimit":300}}
      },
      "layer":[
       {"transform":[{"filter":"datum.g != 'Age <45 years: 4.1 (3.1 - 5.9)'"}],"mark":{"type":"line","interpolate":"linear","strokeWidth":1.2,"clip":true}},
       {"transform":[{"filter":"datum.g == 'Age <45 years: 4.1 (3.1 - 5.9)'"}],"mark":{"type":"line","interpolate":"step-after","strokeWidth":1.2,"clip":true}}
      ]
     },
     {"data":{"values":[{}]},"mark":{"type":"text","align":"right","baseline":"middle","fontSize":8,"color":"black"},"encoding":{"x":{"datum":17.8},"y":{"datum":0.92},"text":{"value":"p = 0.01"}}}
    ]
   },
   {"width":357,"height":31,"view":{"stroke":null},
    "title":{"text":"Number of patients at risk","fontSize":6.2,"fontWeight":"bold","anchor":"middle","frame":"group","offset":1,"color":"black"},
    "data":{"name":"riskC"},
    "encoding":{"y":{"field":"g","type":"nominal","scale":{"type":"point","padding":0.5,"domain":["Age <45 years: 4.1 (3.1 - 5.9)","Age 45 - 70 years: 5.7 (5.0 - 6.8)","Age >70 years: 7.2 (5.9 - 8.9)"]},"axis":null}},
    "layer":[
     {"mark":{"type":"text","fontSize":7.4,"color":"black"},"encoding":{"x":{"field":"t","type":"quantitative","scale":{"domain":[-0.82,18.82],"nice":false,"zero":false},"axis":null},"text":{"field":"n","type":"quantitative"}}},
     {"transform":[{"filter":"datum.t == 0"}],"mark":{"type":"rule","strokeWidth":2,"clip":false},"encoding":{"x":{"datum":-1.6},"x2":{"datum":-1.1},"color":{"field":"g","type":"nominal","scale":{"domain":["Age <45 years: 4.1 (3.1 - 5.9)","Age 45 - 70 years: 5.7 (5.0 - 6.8)","Age >70 years: 7.2 (5.9 - 8.9)"],"range":["#4472C4","#F2A81D","#E8211D"]},"legend":null}}}
    ]
   }
  ]
 },
 {"title":{"text":"D","anchor":"start","fontSize":11,"fontWeight":"bold","dx":-16,"offset":0,"color":"black"},
  "spacing":6,"resolve":{"scale":{"color":"independent"}},
  "vconcat":[
   {"width":357,"height":159,
    "title":{"text":"Progression-free Survival: (Neo)Adjuvant Chemotherapy","fontSize":13,"fontWeight":"bold","anchor":"middle","frame":"group","offset":0,"color":"black"},
    "layer":[
     {"data":{"name":"kmD"},
      "encoding":{
       "x":{"field":"t","type":"quantitative","scale":{"domain":[-0.82,18.82],"nice":false,"zero":false},"axis":{"values":[0,3,6,9,12,15,18],"labelExpr":"datum.value % 6 == 0 ? datum.label : ''","gridColor":{"condition":{"test":"datum.value % 6 == 0","value":"#EBEBEB"},"value":"#F5F5F5"},"tickOpacity":{"condition":{"test":"datum.value % 6 == 0","value":1},"value":0},"title":"Months","titleFontSize":9.5,"titleFontWeight":"bold","titleColor":"black","titlePadding":2,"labelFlush":false}},
       "y":{"field":"s","type":"quantitative","scale":{"domain":[-0.05,1.05],"nice":false,"zero":false},"axis":{"values":[0,0.125,0.25,0.375,0.5,0.625,0.75,0.875,1],"labelExpr":"round(datum.value*8) % 2 == 0 ? format(datum.value, '.0%') : ''","gridColor":{"condition":{"test":"round(datum.value*8) % 2 == 0","value":"#EBEBEB"},"value":"#F5F5F5"},"tickOpacity":{"condition":{"test":"round(datum.value*8) % 2 == 0","value":1},"value":0},"title":null}},
       "color":{"field":"g","type":"nominal","scale":{"domain":["Adjuvant chemotherapy: 5.6 (4.8 - 6.7)","No adjuvant chemotherapy: 6.8 (5.8 - 9.0)"],"range":["#4472C4","#F2A81D"]},"legend":{"orient":"none","legendX":185,"legendY":33,"title":"mPFS, months (95% CI)","titleFontSize":7.4,"titleFontWeight":"bold","titleColor":"black","titlePadding":2,"labelFontSize":6.5,"labelColor":"#333333","symbolType":"stroke","symbolSize":12,"symbolStrokeWidth":1.5,"rowPadding":1.6,"labelOffset":2,"padding":0,"labelLimit":300}}
      },
      "layer":[
       {"transform":[{"filter":"datum.g == 'Adjuvant chemotherapy: 5.6 (4.8 - 6.7)'"}],"mark":{"type":"line","interpolate":"linear","strokeWidth":1.2,"clip":true}},
       {"transform":[{"filter":"datum.g == 'No adjuvant chemotherapy: 6.8 (5.8 - 9.0)'"}],"mark":{"type":"line","interpolate":"step-after","strokeWidth":1.2,"clip":true}}
      ]
     },
     {"data":{"values":[{}]},"mark":{"type":"text","align":"right","baseline":"middle","fontSize":8,"color":"black"},"encoding":{"x":{"datum":17.6},"y":{"datum":0.92},"text":{"value":"p = 0.30"}}}
    ]
   },
   {"width":357,"height":31,"view":{"stroke":null},
    "title":{"text":"Number of patients at risk","fontSize":6.2,"fontWeight":"bold","anchor":"middle","frame":"group","offset":1,"color":"black"},
    "data":{"name":"riskD"},
    "encoding":{"y":{"field":"g","type":"nominal","scale":{"type":"point","padding":0.5,"domain":["Adjuvant chemotherapy: 5.6 (4.8 - 6.7)","No adjuvant chemotherapy: 6.8 (5.8 - 9.0)"]},"axis":null}},
    "layer":[
     {"mark":{"type":"text","fontSize":7.4,"color":"black"},"encoding":{"x":{"field":"t","type":"quantitative","scale":{"domain":[-0.82,18.82],"nice":false,"zero":false},"axis":null},"text":{"field":"n","type":"quantitative"}}},
     {"transform":[{"filter":"datum.t == 0"}],"mark":{"type":"rule","strokeWidth":2,"clip":false},"encoding":{"x":{"datum":-1.6},"x2":{"datum":-1.1},"color":{"field":"g","type":"nominal","scale":{"domain":["Adjuvant chemotherapy: 5.6 (4.8 - 6.7)","No adjuvant chemotherapy: 6.8 (5.8 - 9.0)"],"range":["#4472C4","#F2A81D"]},"legend":null}}}
    ]
   }
  ]
 }
],"spacing":6,"resolve":{"scale":{"color":"independent"}}}
]
}
